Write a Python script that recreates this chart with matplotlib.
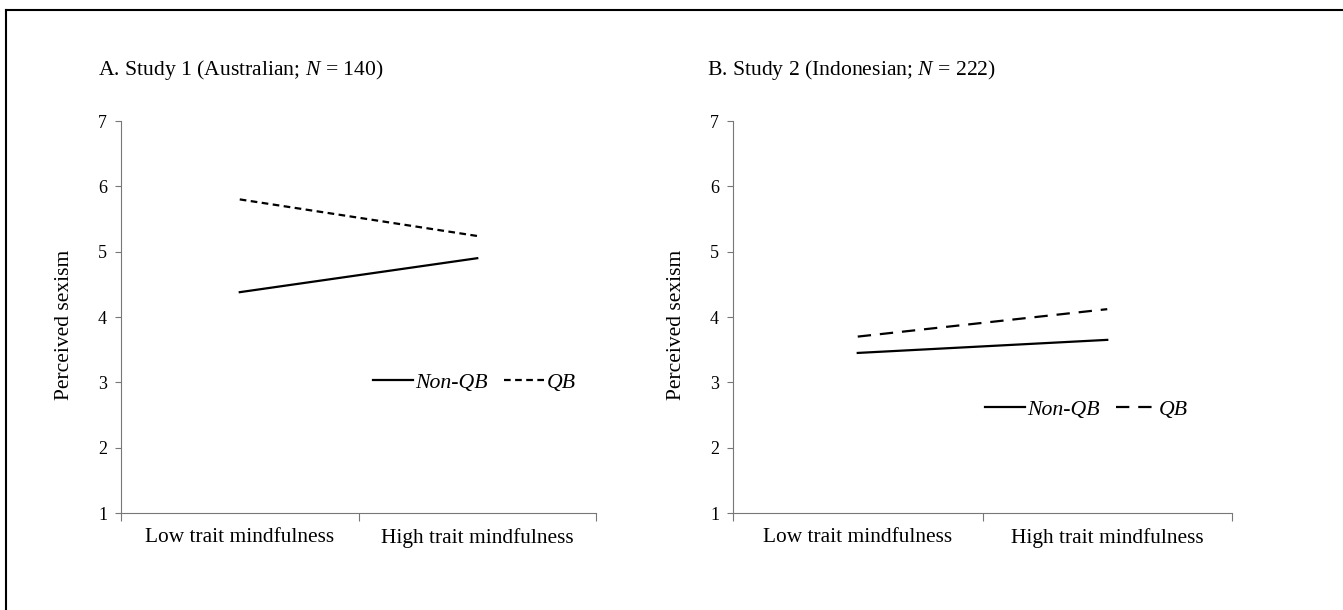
import matplotlib.pyplot as plt
from matplotlib.lines import Line2D

plt.rcParams['font.family'] = ['Liberation Serif', 'DejaVu Serif']
plt.rcParams['mathtext.fontset'] = 'custom'
plt.rcParams['mathtext.it'] = 'Liberation Serif:italic'
plt.rcParams['mathtext.rm'] = 'Liberation Serif'

categories = ['Low trait mindfulness', 'High trait mindfulness']
yticks = [1, 2, 3, 4, 5, 6, 7]

# Study 1 (Australian)
s1_nonqb = [4.38, 4.90]
s1_qb = [5.80, 5.24]
# Study 2 (Indonesian)
s2_nonqb = [3.45, 3.65]
s2_qb = [3.70, 4.12]

fig = plt.figure(figsize=(13.43, 6.10), dpi=100)

# partial frame around the figure (top and left only, as in the scan)
fig.add_artist(Line2D([6 / 1343, 1], [1 - 10 / 610, 1 - 10 / 610], color='black', lw=1.5))
fig.add_artist(Line2D([6 / 1343, 6 / 1343], [0, 1 - 10 / 610], color='black', lw=1.5))

spine_col = '#777777'


def make_panel(rect, nonqb, qb, qb_dash, title, title_x, leg_anchor, ylab_x):
    ax = fig.add_axes(rect)
    xs = [0.5, 1.5]
    ax.plot(xs, nonqb, color='black', lw=1.6, label='Non-QB')
    ax.plot(xs, qb, color='black', lw=1.6, linestyle=(0, qb_dash), label='QB')
    ax.set_xlim(0, 2)
    ax.set_ylim(1, 7)
    ax.set_yticks(yticks)
    ax.set_xticks([0, 1, 2])
    ax.set_xticklabels([])
    ax.set_xticks(xs, minor=True)
    ax.set_xticklabels(categories, minor=True, fontsize=15.4)
    ax.tick_params(axis='x', which='minor', length=0, pad=11)
    ax.tick_params(axis='x', which='major', length=6, color=spine_col, direction='out')
    ax.tick_params(axis='y', length=4, color=spine_col, labelsize=13, pad=6)
    for s in ['top', 'right']:
        ax.spines[s].set_visible(False)
    ax.spines['left'].set_color(spine_col)
    ax.spines['bottom'].set_color(spine_col)
    ax.set_ylabel('Perceived sexism', fontsize=15.5)
    ax.yaxis.set_label_coords(ylab_x, 0.48)
    ax.legend(loc='center left', bbox_to_anchor=leg_anchor, ncol=2, frameon=False,
              prop={'style': 'italic', 'size': 15.7}, handlelength=1.85,
              handletextpad=0.1, columnspacing=0.75, borderpad=0, borderaxespad=0)
    fig.text(title_x, 1 - 70 / 610, title, fontsize=15.6, va='center', ha='left')
    return ax


make_panel([121 / 1343, 1 - 513 / 610, 475 / 1343, 392 / 610], s1_nonqb, s1_qb, (3, 2),
           'A. Study 1 (Australian; $N$ = 140)', 98 / 1343, (0.53, 0.332), -0.099)
make_panel([733 / 1343, 1 - 513 / 610, 499 / 1343, 392 / 610], s2_nonqb, s2_qb, (6, 4),
           'B. Study 2 (Indonesian; $N$ = 222)', 707 / 1343, (0.505, 0.263), -0.094)

fig.savefig('out.png', dpi=100)
